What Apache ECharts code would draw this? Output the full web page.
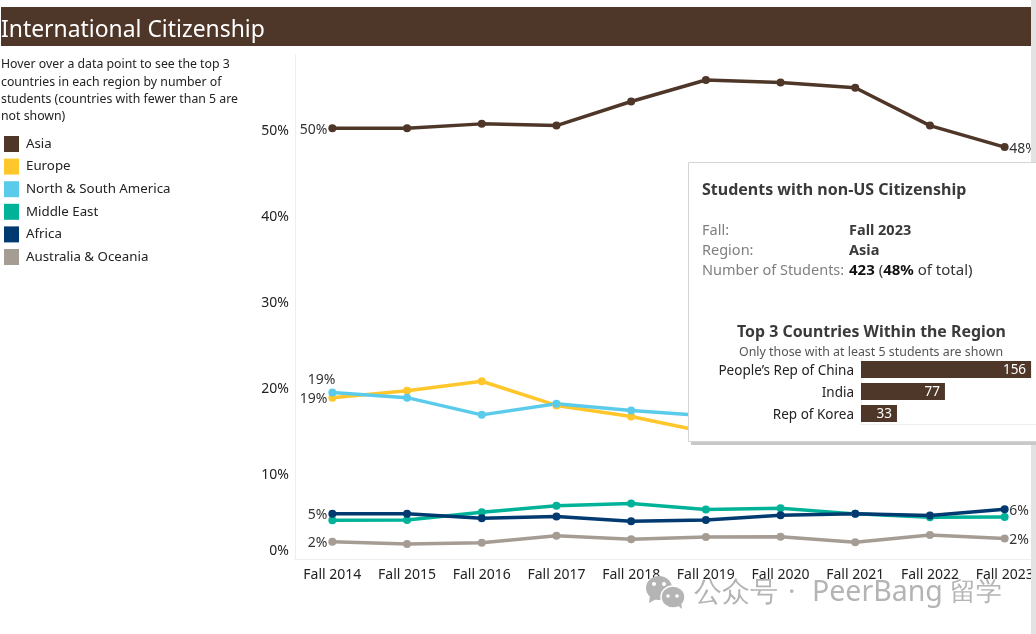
<!DOCTYPE html>
<html>
<head>
<meta charset="utf-8">
<title>International Citizenship</title>
<script src="https://cdn.jsdelivr.net/npm/echarts@6/dist/echarts.min.js"></script>
<style>
  html, body { margin: 0; padding: 0; background: #fff; }
  #chart { width: 1036px; height: 634px; }
</style>
</head>
<body>
<div id="chart"></div>
<script>
var FONT = '"Noto Sans", sans-serif';

var years = ['Fall 2014', 'Fall 2015', 'Fall 2016', 'Fall 2017', 'Fall 2018', 'Fall 2019', 'Fall 2020', 'Fall 2021', 'Fall 2022', 'Fall 2023'];
var asia = [50.1, 50.1, 50.6, 50.4, 53.2, 55.7, 55.4, 54.8, 50.4, 47.9];
var europe = [18.8, 19.6, 20.7, 17.9, 16.6, 14.8, 14.7, 14.5, 14.3, 14.1];
var americas = [19.4, 18.8, 16.8, 18.1, 17.3, 16.7, 16.2, 15.8, 15.4, 15.0];
var middleEast = [4.55, 4.6, 5.5, 6.25, 6.5, 5.8, 5.95, 5.3, 4.9, 4.95];
var africa = [5.3, 5.3, 4.8, 5.0, 4.45, 4.6, 5.15, 5.3, 5.1, 5.85];
var oceania = [2.05, 1.8, 1.95, 2.75, 2.35, 2.6, 2.65, 2.0, 2.85, 2.45];

var topCountries = ['People\u2019s Rep of China', 'India', 'Rep of Korea'];
var topCounts = [156, 77, 33];

// first / last point labels only, like the original
function labelled(values, first, last, firstOffset) {
  return values.map(function (v, i) {
    var show = (i === 0 && first) || (i === values.length - 1 && last);
    if (!show) return v;
    return {
      value: v,
      label: {
        show: true,
        position: i === 0 ? 'left' : 'right',
        distance: i === 0 ? 1 : 0.5,
        offset: i === 0 && firstOffset ? firstOffset : [0, 1.5],
        formatter: Math.round(v) + '%',
        fontFamily: FONT,
        fontSize: 14,
        color: '#333'
      }
    };
  });
}

function lineSeries(name, color, values, first, last, firstOffset) {
  return {
    name: name,
    type: 'line',
    z: 2,
    data: labelled(values, first, last, firstOffset),
    symbol: 'circle',
    symbolSize: 8,
    lineStyle: { color: color, width: 3.5 },
    itemStyle: { color: color },
    animation: false
  };
}

function tipText(x, y, text, size, color, weight, align) {
  return {
    type: 'text',
    z: 20,
    x: x,
    y: y,
    style: {
      text: text,
      fontFamily: FONT,
      fontSize: size,
      fontWeight: weight || 'normal',
      fill: color,
      align: align || 'left',
      verticalAlign: 'middle'
    }
  };
}

function markShape(type, shape, fill) {
  return { type: type, z: 21, shape: shape, style: { fill: fill } };
}

var chart = echarts.init(document.getElementById('chart'));

chart.setOption({
  animation: false,
  backgroundColor: '#fff',
  legend: {
    orient: 'vertical',
    left: 4,
    top: 136,
    padding: 0,
    itemWidth: 15,
    itemHeight: 16,
    itemGap: 6.6,
    icon: 'rect',
    selectedMode: false,
    textStyle: { fontFamily: FONT, fontSize: 13.3, color: '#222', padding: [0, 0, 0, 2] },
    data: ['Asia', 'Europe', 'North & South America', 'Middle East', 'Africa', 'Australia & Oceania']
  },
  grid: [
    { left: 295, top: 55, width: 747, height: 504.5, outerBoundsMode: 'none' },
    { left: 861, top: 358.5, width: 175, height: 66, outerBoundsMode: 'none' }
  ],
  xAxis: [
    {
      type: 'category',
      gridIndex: 0,
      data: years,
      axisLine: { lineStyle: { color: '#eeeeee' } },
      axisTick: { show: false },
      axisLabel: { fontFamily: FONT, fontSize: 14, color: '#222', margin: 9, interval: 0 }
    },
    {
      type: 'value',
      gridIndex: 1,
      min: 0,
      max: 160.5,
      z: 20,
      axisLine: { show: true, lineStyle: { color: '#eeeeee' } },
      axisTick: { show: false },
      axisLabel: { show: false },
      splitLine: { show: false }
    }
  ],
  yAxis: [
    {
      type: 'value',
      gridIndex: 0,
      min: 0,
      max: 58.6,
      interval: 10,
      axisLine: { show: true, lineStyle: { color: '#eeeeee' } },
      axisTick: { show: false },
      splitLine: { show: false },
      axisLabel: {
        fontFamily: FONT,
        fontSize: 14,
        color: '#222',
        margin: 6,
        padding: [4, 0, 0, 0],
        formatter: function (v) { return v === 0 ? '{zero|0%}' : v + '%'; },
        rich: { zero: { fontFamily: FONT, fontSize: 14, color: '#222', padding: [0, 0, 20, 0] } },
        showMaxLabel: false
      }
    },
    {
      type: 'category',
      gridIndex: 1,
      inverse: true,
      data: topCountries,
      z: 20,
      axisLine: { show: true, lineStyle: { color: '#eeeeee' } },
      axisTick: { show: false },
      axisLabel: {
        margin: 7,
        formatter: '{t|{value}}',
        rich: { t: { fontFamily: FONT, fontSize: 13.5, color: '#222', padding: [4, 0, 0, 0] } }
      }
    }
  ],
  series: [
    lineSeries('Asia', '#4e3629', asia, true, true),
    lineSeries('Europe', '#ffc72c', europe, true, false),
    lineSeries('North & South America', '#5bcbeb', americas, true, false, [8, -12.5]),
    lineSeries('Middle East', '#00b398', middleEast, false, false),
    lineSeries('Africa', '#003a70', africa, true, true),
    lineSeries('Australia & Oceania', '#a59c94', oceania, true, true),
    {
      name: 'Top 3',
      type: 'bar',
      z: 20,
      xAxisIndex: 1,
      yAxisIndex: 1,
      data: topCounts,
      barWidth: 17,
      itemStyle: { color: '#4e3629' },
      label: {
        show: true,
        position: 'insideRight',
        distance: 5,
        offset: [0, 1],
        color: '#fff',
        fontFamily: FONT,
        fontSize: 13.5
      }
    }
  ],
  graphic: [
    // header band
    { type: 'rect', z: 5, shape: { x: 1, y: 7, width: 1030, height: 39 }, style: { fill: '#4e3629' } },
    { type: 'text', z: 6, x: 1, y: 30, style: { text: 'International Citizenship', fontFamily: FONT, fontSize: 22.9, fill: '#fff', verticalAlign: 'middle' } },
    // hover note
    tipText(1, 64.5, 'Hover over a data point to see the top 3', 12.3, '#222'),
    tipText(1, 82.5, 'countries in each region by number of', 12.3, '#222'),
    tipText(1, 99.5, 'students (countries with fewer than 5 are', 12.3, '#222'),
    tipText(1, 116.5, 'not shown)', 12.3, '#222'),
    // scrollbar strip on the right
    { type: 'rect', z: 5, shape: { x: 1031, y: 0, width: 5, height: 634 }, style: { fill: '#e3e3e3' } },
    // pinned tooltip
    { type: 'rect', z: 9, shape: { x: 691, y: 166, width: 345, height: 279 }, style: { fill: '#c8c8c8' } },
    { type: 'rect', z: 10, shape: { x: 688.5, y: 162.5, width: 348, height: 279 }, style: { fill: '#fff', stroke: '#d4d4d4', lineWidth: 1 } },
    tipText(702, 190, 'Students with non-US Citizenship', 16, '#3a3a3a', 'bold'),
    tipText(702, 231, 'Fall:', 14.5, '#7f7f7f'),
    tipText(702, 251, 'Region:', 14.5, '#7f7f7f'),
    tipText(702, 271, 'Number of Students:', 14.5, '#7f7f7f'),
    tipText(849, 231, 'Fall 2023', 14.5, '#3a3a3a', 'bold'),
    tipText(849, 251, 'Asia', 14.5, '#3a3a3a', 'bold'),
    {
      type: 'text',
      z: 20,
      x: 849,
      y: 271,
      style: {
        text: '{b|423} ({b|48%} of total)',
        fontFamily: FONT,
        fontSize: 15,
        fill: '#333',
        verticalAlign: 'middle',
        rich: { b: { fontFamily: FONT, fontSize: 15, fontWeight: 'bold', fill: '#111' } }
      }
    },
    tipText(871.5, 332, 'Top 3 Countries Within the Region', 15.9, '#3a3a3a', 'bold', 'center'),
    tipText(871, 352, 'Only those with at least 5 students are shown', 12.4, '#555', 'normal', 'center'),
    // watermark
    markShape('ellipse', { cx: 659, cy: 588, rx: 13, ry: 12 }, '#b4b4b4'),
    markShape('polygon', { points: [[650, 595], [649, 603], [658, 598]] }, '#b4b4b4'),
    markShape('circle', { cx: 654, cy: 584, r: 2 }, '#fff'),
    markShape('circle', { cx: 664, cy: 584, r: 2 }, '#fff'),
    { type: 'ellipse', z: 21, shape: { cx: 673, cy: 597, rx: 12, ry: 11 }, style: { fill: '#b4b4b4', stroke: '#fff', lineWidth: 1.5 } },
    markShape('polygon', { points: [[677, 605], [682, 609], [681, 601]] }, '#b4b4b4'),
    markShape('circle', { cx: 668, cy: 596, r: 1.8 }, '#fff'),
    markShape('circle', { cx: 677, cy: 596, r: 1.8 }, '#fff'),
    tipText(694, 593, '\u516c\u4f17\u53f7', 28, '#b4b4b4'),
    tipText(788, 593, '\u00b7', 28, '#b4b4b4'),
    tipText(812, 593, 'PeerBang', 28.5, '#b4b4b4'),
    tipText(950, 593, '\u7559\u5b66', 26, '#b4b4b4')
  ]
});
</script>
</body>
</html>
